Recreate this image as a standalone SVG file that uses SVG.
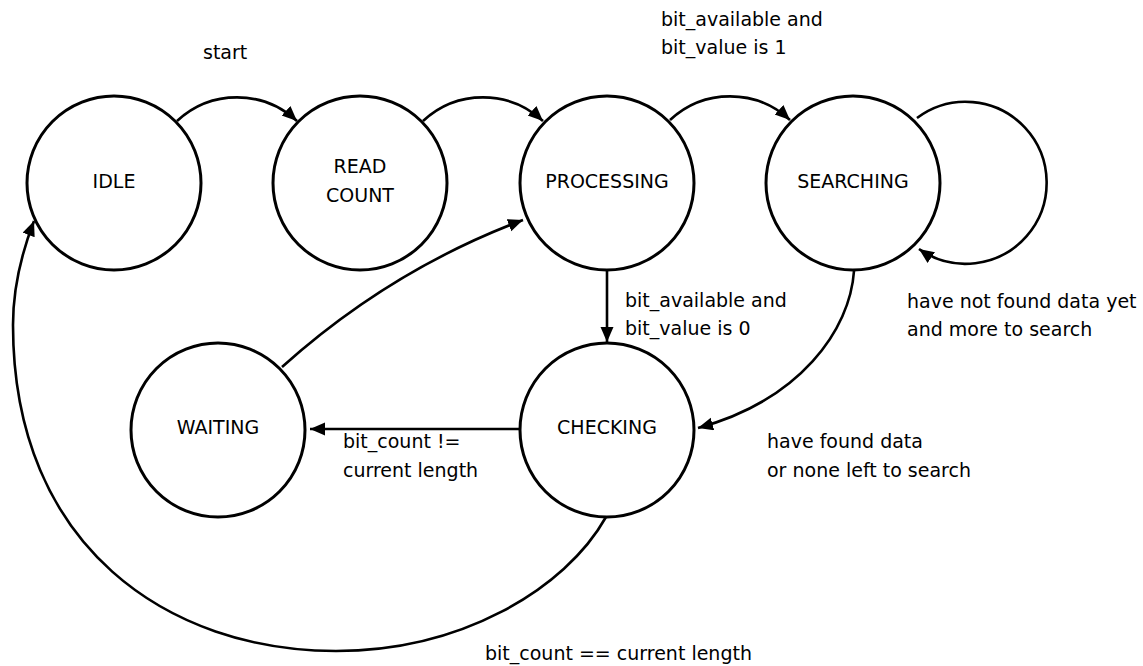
<svg xmlns="http://www.w3.org/2000/svg" width="1143" height="666" viewBox="0 0 1143 666">
<defs>
<style>
.node circle{fill:#fff;stroke:#000;stroke-width:3}
.node text{font-family:"DejaVu Sans","Liberation Sans",sans-serif;font-size:19px;fill:#000;text-anchor:middle}
.edge{fill:none;stroke:#000;stroke-width:2.6;marker-end:url(#arr)}
.lbl{font-family:"DejaVu Sans","Liberation Sans",sans-serif;font-size:19px;fill:#000}
</style>
<marker id="arr" markerUnits="userSpaceOnUse" markerWidth="16" markerHeight="14" refX="15" refY="6.5" orient="auto" viewBox="0 0 16 14">
<path d="M0,0 L15,6.5 L0,13 z" fill="#000"/>
</marker>
</defs>
<rect width="1143" height="666" fill="#fff"/>
<g id="connectors">
<path class="edge" d="M177,121 A88,88 0 0 1 297,121"/>
<path class="edge" d="M423,121 A88,88 0 0 1 543,121"/>
<path class="edge" d="M670,120 A88,88 0 0 1 790,120"/>
<path class="edge" d="M917,118 A81,81 0 1 1 919,249"/>
<path class="edge" d="M607,270 L607,342"/>
<path class="edge" d="M854,271 C850,330 800,400 698,428"/>
<path class="edge" d="M519,429 L310,429"/>
<path class="edge" d="M282,367 Q390,270 523,220"/>
<path class="edge" d="M606,517 C565,590 460,651 336,651 C170,651 13,548 13,325 C13,285 22,252 34,221"/>
</g>
<g id="labels">
<text class="lbl" x="203" y="59">start</text>
<text class="lbl" x="661" y="26">bit_available and</text>
<text class="lbl" x="661" y="54">bit_value is 1</text>
<text class="lbl" x="625" y="307">bit_available and</text>
<text class="lbl" x="625" y="335">bit_value is 0</text>
<text class="lbl" x="907" y="308">have not found data yet</text>
<text class="lbl" x="907" y="336">and more to search</text>
<text class="lbl" x="767" y="448">have found data</text>
<text class="lbl" x="767" y="477">or none left to search</text>
<text class="lbl" x="343" y="448">bit_count !=</text>
<text class="lbl" x="343" y="477">current length</text>
<text class="lbl" x="485" y="660">bit_count == current length</text>
</g>
<g id="idle" class="node"><circle cx="114" cy="183" r="87"/><text x="114" y="188">IDLE</text></g>
<g id="readcount" class="node"><circle cx="360" cy="183" r="87"/><text x="360" y="173">READ</text><text x="360" y="202">COUNT</text></g>
<g id="processing" class="node"><circle cx="607" cy="183" r="87"/><text x="607" y="188">PROCESSING</text></g>
<g id="searching" class="node"><circle cx="853" cy="183" r="87"/><text x="853" y="188">SEARCHING</text></g>
<g id="waiting" class="node"><circle cx="218" cy="430" r="87"/><text x="218" y="434">WAITING</text></g>
<g id="checking" class="node"><circle cx="607" cy="430" r="87"/><text x="607" y="434">CHECKING</text></g>
</svg>
